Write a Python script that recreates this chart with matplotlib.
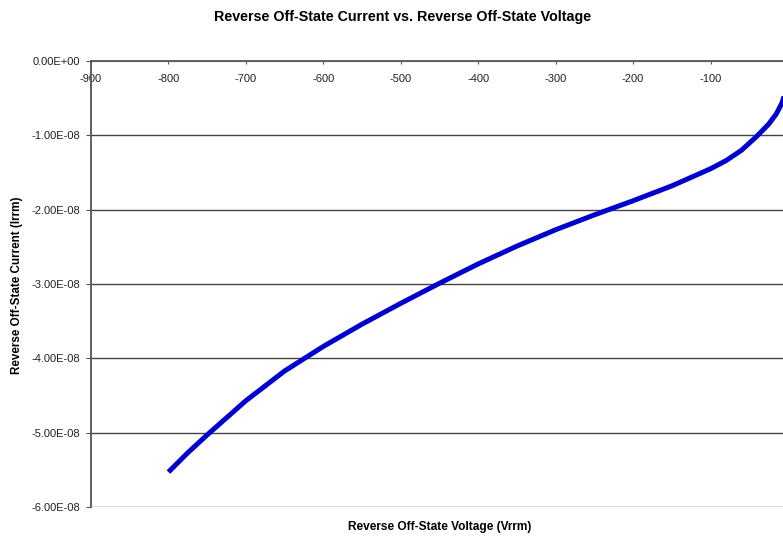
import matplotlib
matplotlib.use("Agg")
import matplotlib.pyplot as plt
from matplotlib.ticker import FuncFormatter

# Data
voltage = [-800, -775, -750, -700, -650, -600, -550, -500, -450, -400, -350,
           -300, -250, -200, -150, -100, -80, -60, -40, -25, -15, -8, -4, 0]
current_e8 = [-5.53, -5.27, -5.03, -4.57, -4.17, -3.84, -3.54, -3.26, -2.99, -2.73,
              -2.49, -2.27, -2.07, -1.88, -1.68, -1.45, -1.34, -1.20, -1.01, -0.85,
              -0.71, -0.57, -0.44, -0.20]
current = [c * 1e-8 for c in current_e8]

x_ticks = [-900, -800, -700, -600, -500, -400, -300, -200, -100]
y_ticks = [0, -1e-8, -2e-8, -3e-8, -4e-8, -5e-8, -6e-8]

title = "Reverse Off-State Current vs. Reverse Off-State Voltage"
xlabel = "Reverse Off-State Voltage (Vrrm)"
ylabel = "Reverse Off-State Current (Irrm)"

plt.rcParams['font.family'] = ['Liberation Sans', 'DejaVu Sans']
plt.rcParams['axes.unicode_minus'] = False

W, H = 783, 536
fig = plt.figure(figsize=(W / 100, H / 100), dpi=100)
ax = fig.add_axes([91 / W, 1 - 507 / H, (788 - 91) / W, (507 - 61) / H])

ax.plot(voltage, current, color='#0000CC', lw=3.6, solid_capstyle='butt',
        solid_joinstyle='round', zorder=3)

ax.set_xlim(-900, 0)
ax.set_ylim(-6e-8, 0)
ax.set_xticks(x_ticks)
ax.set_yticks(y_ticks)

def yfmt(v, pos):
    if abs(v) < 1e-20:
        return "0.00E+00"
    return "%.2E" % v

ax.yaxis.set_major_formatter(FuncFormatter(yfmt))

# x axis crosses at y = 0 (top of plot), labels below it
ax.spines['bottom'].set_position(('data', 0))
ax.spines['bottom'].set_color('#555555')
ax.spines['left'].set_color('#555555')
ax.spines['bottom'].set_linewidth(1.3)
ax.spines['left'].set_linewidth(1.3)
ax.spines['top'].set_visible(False)
ax.spines['right'].set_visible(False)

ax.tick_params(axis='x', direction='out', length=2.5, width=0.8, colors='#555555',
               labelsize=8, labelcolor='#222222', pad=7)
ax.tick_params(axis='y', direction='out', length=3.5, width=0.8, colors='#555555',
               labelsize=8, labelcolor='#222222', pad=4)

ax.yaxis.grid(True, color='#444444', lw=1.0)
ax.set_axisbelow(True)
gl = ax.get_ygridlines()
if len(gl):
    gl[0].set_color('#bbbbbb')

fig.text(403 / W, 1 - 17 / H, title, ha='center', va='center',
         fontsize=10.3, fontweight='bold')
fig.text(440 / W, 1 - 527 / H, xlabel, ha='center', va='center',
         fontsize=8.6, fontweight='bold')
fig.text(17 / W, 1 - 285 / H, ylabel, ha='center', va='center',
         rotation=90, fontsize=8.4, fontweight='bold')

fig.savefig("out.png", dpi=100)
